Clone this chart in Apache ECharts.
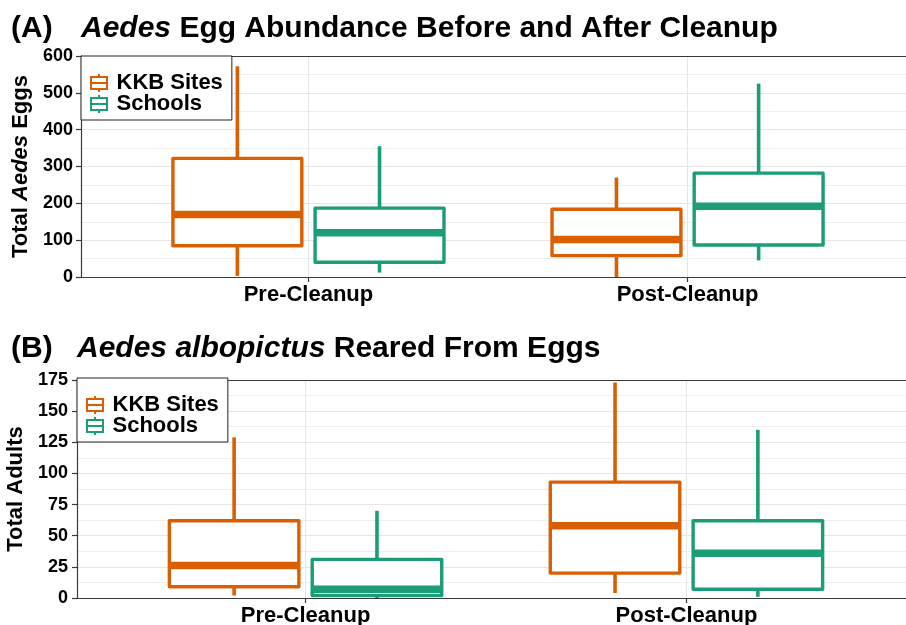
<!DOCTYPE html>
<html>
<head>
<meta charset="utf-8">
<script src="https://cdn.jsdelivr.net/npm/echarts@6/dist/echarts.min.js"></script>
<style>
html, body { margin: 0; padding: 0; background: #fff; }
#chart { width: 906px; height: 625px; }
</style>
</head>
<body>
<div id="chart"></div>
<script>
// ---------------- data ----------------
const categories = ['Pre-Cleanup', 'Post-Cleanup'];
const groupNames = ['KKB Sites', 'Schools'];
// five-number summaries [min, Q1, median, Q3, max], one row per category
const eggsKKB = [[3, 85, 170, 322, 572], [0, 58, 102, 184, 270]];
const eggsSchools = [[12, 40, 120, 187, 355], [45, 87, 192, 282, 525]];
const adultsKKB = [[2, 9, 26, 62, 129], [4, 20, 58, 93, 173]];
const adultsSchools = [[0, 2, 7, 31, 70], [1, 7, 36, 62, 135]];
// y axis tick settings
const eggAxisMax = 600, eggAxisStep = 100;
const adultAxisMax = 175, adultAxisStep = 25;

// ---------------- style ----------------
const FONT = '"Liberation Sans", Arial, Helvetica, sans-serif';
const ORANGE = '#D95F02';
const GREEN = '#1B9E77';
const AXIS = '#3a3a3a';
const GRIDC = '#e6e6e6';
const GRIDC2 = '#eeeeee';
const DODGE = 0.1875;
const BOX_W = 0.34;
const ICON = 'path://M8,0L8,3M0,3L16,3L16,15L0,15ZM0,9L16,9M8,15L8,18';

function makeBox(offset) {
  return function (params, api) {
    const xc = api.value(0) + offset;
    const half = api.size([BOX_W, 0])[0] / 2;
    const pMin = api.coord([xc, api.value(1)]);
    const pQ1 = api.coord([xc, api.value(2)]);
    const pMed = api.coord([xc, api.value(3)]);
    const pQ3 = api.coord([xc, api.value(4)]);
    const pMax = api.coord([xc, api.value(5)]);
    const color = api.visual('color');
    const x0 = pMed[0];
    return {
      type: 'group',
      children: [
        { type: 'line', shape: { x1: x0, y1: pMax[1], x2: x0, y2: pQ3[1] }, style: { stroke: color, lineWidth: 3.6 } },
        { type: 'line', shape: { x1: x0, y1: pQ1[1], x2: x0, y2: pMin[1] }, style: { stroke: color, lineWidth: 3.6 } },
        { type: 'rect', shape: { x: x0 - half, y: pQ3[1], width: 2 * half, height: pQ1[1] - pQ3[1] },
          style: { fill: '#fff', stroke: color, lineWidth: 3.4, lineJoin: 'round' } },
        { type: 'line', shape: { x1: x0 - half, y1: pMed[1], x2: x0 + half, y2: pMed[1] }, style: { stroke: color, lineWidth: 7.5 } }
      ]
    };
  };
}

function boxSeries(name, rows, color, offset, idx) {
  return {
    type: 'custom',
    name: name,
    xAxisIndex: idx,
    yAxisIndex: idx,
    itemStyle: { color: color },
    encode: { x: 0, y: [1, 2, 3, 4, 5] },
    data: rows.map(function (d, i) { return [i + 1].concat(d); }),
    renderItem: makeBox(offset),
    clip: false,
    z: 3
  };
}

function xAxisDef(idx) {
  return {
    type: 'value', gridIndex: idx, min: 0.4, max: 2.6, position: 'bottom',
    axisLine: { show: true, onZero: false, lineStyle: { color: AXIS, width: 1.2 } },
    axisTick: { show: true, customValues: [1, 2], length: 5, lineStyle: { color: AXIS, width: 1.2 } },
    axisLabel: {
      customValues: [1, 2],
      formatter: function (v) { return categories[Math.round(v) - 1] || ''; },
      fontSize: 22, fontWeight: 'bold', color: '#000', fontFamily: FONT, margin: 7
    },
    splitLine: { show: true, lineStyle: { color: GRIDC, width: 1 } }
  };
}

// top border of each panel (axis line only)
function topAxisDef(idx) {
  return {
    type: 'value', gridIndex: idx, min: 0.4, max: 2.6, position: 'top',
    axisLine: { show: true, onZero: false, lineStyle: { color: AXIS, width: 1.2 } },
    axisTick: { show: false }, axisLabel: { show: false }, splitLine: { show: false }
  };
}

function yAxisDef(idx, max, step, name, gap, margin) {
  return {
    type: 'value', gridIndex: idx, min: 0, max: max, interval: step,
    axisLine: { show: true, lineStyle: { color: AXIS, width: 1.2 } },
    axisTick: { show: true, length: 5, lineStyle: { color: AXIS, width: 1.2 } },
    axisLabel: { fontSize: 18, fontWeight: 'bold', color: '#000', fontFamily: FONT, margin: margin },
    splitLine: { show: true, lineStyle: { color: GRIDC, width: 1 } },
    minorTick: { show: false, splitNumber: 2 },
    minorSplitLine: { show: true, lineStyle: { color: GRIDC2, width: 1 } },
    name: name, nameLocation: 'middle', nameGap: gap, nameRotate: 90,
    nameTextStyle: {
      fontSize: 22, fontWeight: 'bold', color: '#000', fontFamily: FONT,
      rich: { i: { fontSize: 22, fontWeight: 'bold', fontStyle: 'italic', color: '#000', fontFamily: FONT } }
    }
  };
}

function legendDef(left, top) {
  return {
    orient: 'vertical', left: left, top: top,
    padding: [16, 9, 5, 9],
    itemWidth: 17, itemHeight: 18, itemGap: -1,
    backgroundColor: '#fff', borderColor: '#222', borderWidth: 1,
    selectedMode: false,
    textStyle: { fontSize: 22, fontWeight: 'bold', color: '#000', fontFamily: FONT, padding: [0, 0, 0, 4] },
    data: [
      { name: groupNames[0], icon: ICON, itemStyle: { color: '#fff', borderColor: ORANGE, borderWidth: 2 } },
      { name: groupNames[1], icon: ICON, itemStyle: { color: '#fff', borderColor: GREEN, borderWidth: 2 } }
    ]
  };
}

const titleStyle = {
  fontSize: 30, fontWeight: 'bold', color: '#000', fontFamily: FONT,
  rich: { i: { fontSize: 30, fontWeight: 'bold', fontStyle: 'italic', color: '#000', fontFamily: FONT } }
};

const option = {
  backgroundColor: '#fff',
  animation: false,
  title: [
    { text: '(A)', left: 11, top: 14, padding: 0, textStyle: titleStyle },
    { text: '{i|Aedes} Egg Abundance Before and After Cleanup', left: 81, top: 14, padding: 0, textStyle: titleStyle },
    { text: '(B)', left: 11, top: 334, padding: 0, textStyle: titleStyle },
    { text: '{i|Aedes albopictus} Reared From Eggs', left: 77, top: 334, padding: 0, textStyle: titleStyle }
  ],
  legend: [legendDef(81, 56), legendDef(77, 378)],
  grid: [
    { left: 81, top: 56, width: 834, height: 221, show: false, containLabel: false, outerBoundsMode: 'none' },
    { left: 77, top: 380, width: 838, height: 218, show: false, containLabel: false, outerBoundsMode: 'none' }
  ],
  xAxis: [xAxisDef(0), xAxisDef(1), topAxisDef(0), topAxisDef(1)],
  yAxis: [
    yAxisDef(0, eggAxisMax, eggAxisStep, 'Total {i|Aedes} Eggs', 48, 8),
    yAxisDef(1, adultAxisMax, adultAxisStep, 'Total Adults', 46, 9)
  ],
  series: [
    boxSeries(groupNames[0], eggsKKB, ORANGE, -DODGE, 0),
    boxSeries(groupNames[1], eggsSchools, GREEN, DODGE, 0),
    boxSeries(groupNames[0], adultsKKB, ORANGE, -DODGE, 1),
    boxSeries(groupNames[1], adultsSchools, GREEN, DODGE, 1)
  ]
};

const chart = echarts.init(document.getElementById('chart'), null, { renderer: 'canvas' });
chart.setOption(option);
</script>
</body>
</html>
